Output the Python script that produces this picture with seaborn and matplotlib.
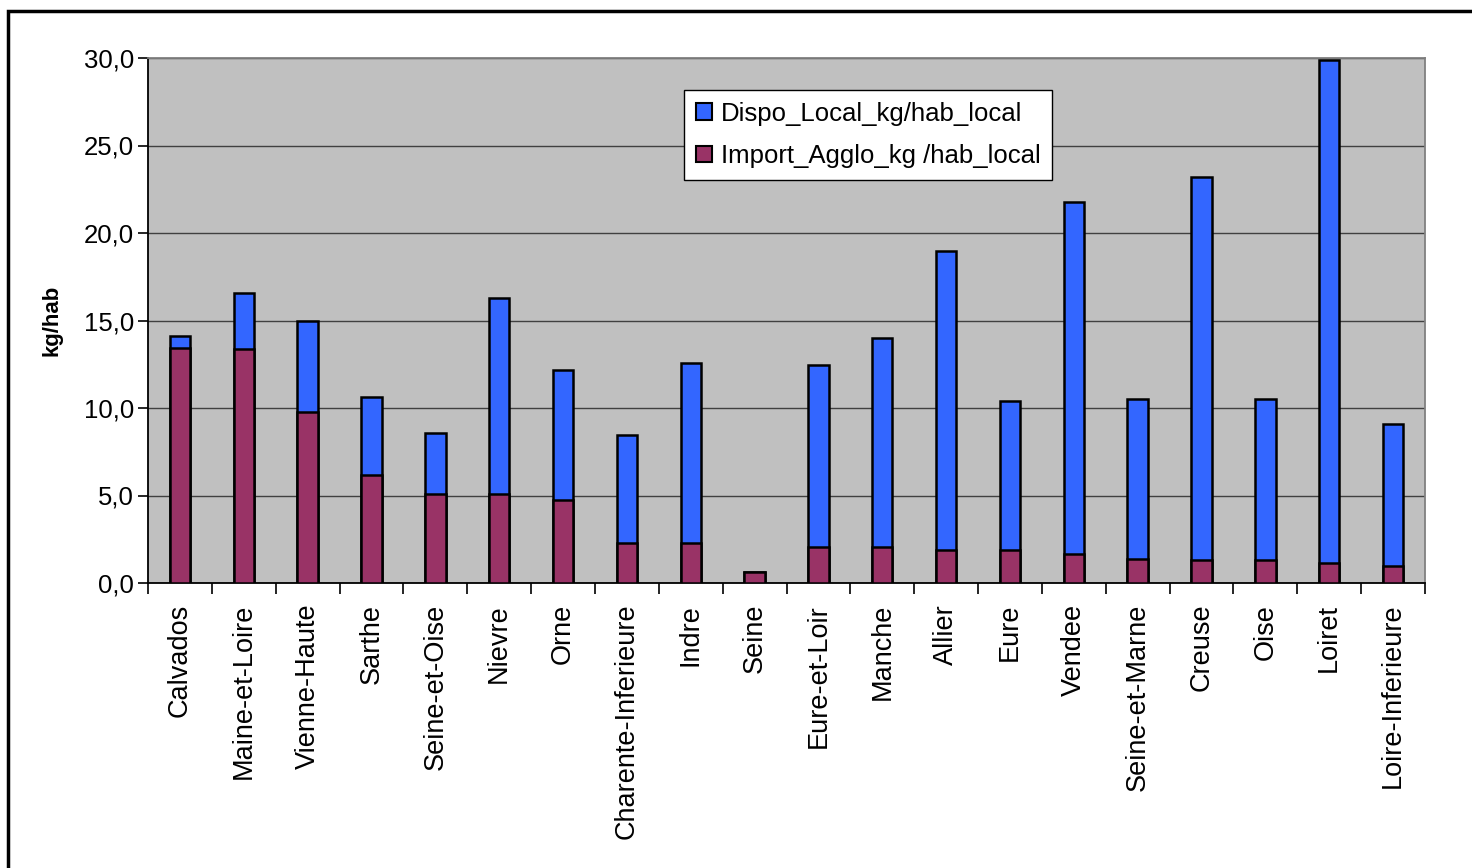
import matplotlib
matplotlib.use("Agg")
from matplotlib import pyplot as plt
from matplotlib.patches import Rectangle, Patch
from matplotlib.ticker import FuncFormatter, MultipleLocator, FixedLocator
import numpy as np
import pandas as pd
import seaborn as sns

departements = ["Calvados", "Maine-et-Loire", "Vienne-Haute", "Sarthe", "Seine-et-Oise",
                "Nievre", "Orne", "Charente-Inferieure", "Indre", "Seine",
                "Eure-et-Loir", "Manche", "Allier", "Eure", "Vendee",
                "Seine-et-Marne", "Creuse", "Oise", "Loiret", "Loire-Inferieure"]

# kg/hab
import_agglo = [13.45, 13.35, 9.75, 6.15, 5.1, 5.1, 4.75, 2.3, 2.3, 0.65,
                2.05, 2.05, 1.9, 1.9, 1.65, 1.4, 1.3, 1.3, 1.15, 1.0]
dispo_local = [0.65, 3.2, 5.25, 4.5, 3.45, 11.2, 7.45, 6.15, 10.3, 0.0,
               10.4, 11.95, 17.1, 8.5, 20.15, 9.1, 21.9, 9.2, 28.75, 8.1]

BLUE = "#3366FF"
RED = "#993366"

df = pd.DataFrame({"dep": departements,
                   "import": import_agglo,
                   "dispo": dispo_local})
df["total"] = df["import"] + df["dispo"]

plt.rcParams["font.family"] = ["Liberation Sans", "DejaVu Sans"]

fig = plt.figure(figsize=(14.72, 8.68), dpi=100)
ax = fig.add_axes([148/1472, 1 - 583/868, 1277/1472, 525/868])

# outer frame of the chart
fig.patches.append(Rectangle((8/1472, -0.05), 1.2, 1 - 11/868 + 0.05,
                             transform=fig.transFigure, fill=False,
                             edgecolor="black", linewidth=2.5, zorder=0))

ax.set_facecolor("#C0C0C0")
ax.set_axisbelow(True)
ax.yaxis.grid(True, color="#404040", linewidth=1.0)

# stacked: total first (blue), import drawn on top (red)
sns.barplot(data=df, x="dep", y="total", color=BLUE, saturation=1, width=0.32,
            edgecolor="black", linewidth=1.8, ax=ax, zorder=2)
sns.barplot(data=df, x="dep", y="import", color=RED, saturation=1, width=0.32,
            edgecolor="black", linewidth=1.8, ax=ax, zorder=3)

ax.set_xlim(-0.5, len(departements) - 0.5)
ax.set_ylim(0, 30)
ax.yaxis.set_major_locator(MultipleLocator(5))
ax.yaxis.set_major_formatter(FuncFormatter(lambda v, p: f"{v:.1f}".replace(".", ",")))

ax.xaxis.set_minor_locator(FixedLocator(np.arange(-0.5, len(departements), 1)))
ax.tick_params(axis="x", which="major", length=0, pad=15, labelsize=19.5, labelrotation=90)
ax.tick_params(axis="x", which="minor", length=8, width=1.2, color="black")
ax.tick_params(axis="y", length=7, width=1.2, labelsize=18.5, pad=3)
for lbl in ax.get_xticklabels():
    lbl.set_va("top")

ax.set_xlabel("")
ax.set_ylabel("kg/hab", fontsize=16, fontweight="bold")
ax.yaxis.set_label_coords(-0.067, 0.5)

for side in ["left", "bottom"]:
    ax.spines[side].set_color("black")
    ax.spines[side].set_linewidth(1.3)
for side in ["top", "right"]:
    ax.spines[side].set_color("#808080")
    ax.spines[side].set_linewidth(1.3)

handles = [Patch(facecolor=BLUE, edgecolor="black", linewidth=1.5),
           Patch(facecolor=RED, edgecolor="black", linewidth=1.5)]
leg = ax.legend(handles, ["Dispo_Local_kg/hab_local", "Import_Agglo_kg /hab_local"],
                loc="upper left", bbox_to_anchor=(0.420, 0.939), fontsize=18.5,
                frameon=True, fancybox=False, framealpha=1, edgecolor="black",
                handlelength=0.62, handleheight=0.62, handletextpad=0.35,
                borderpad=0.45, labelspacing=0.72, borderaxespad=0)
leg.get_frame().set_linewidth(1.0)

fig.savefig("out.png", dpi=100)
